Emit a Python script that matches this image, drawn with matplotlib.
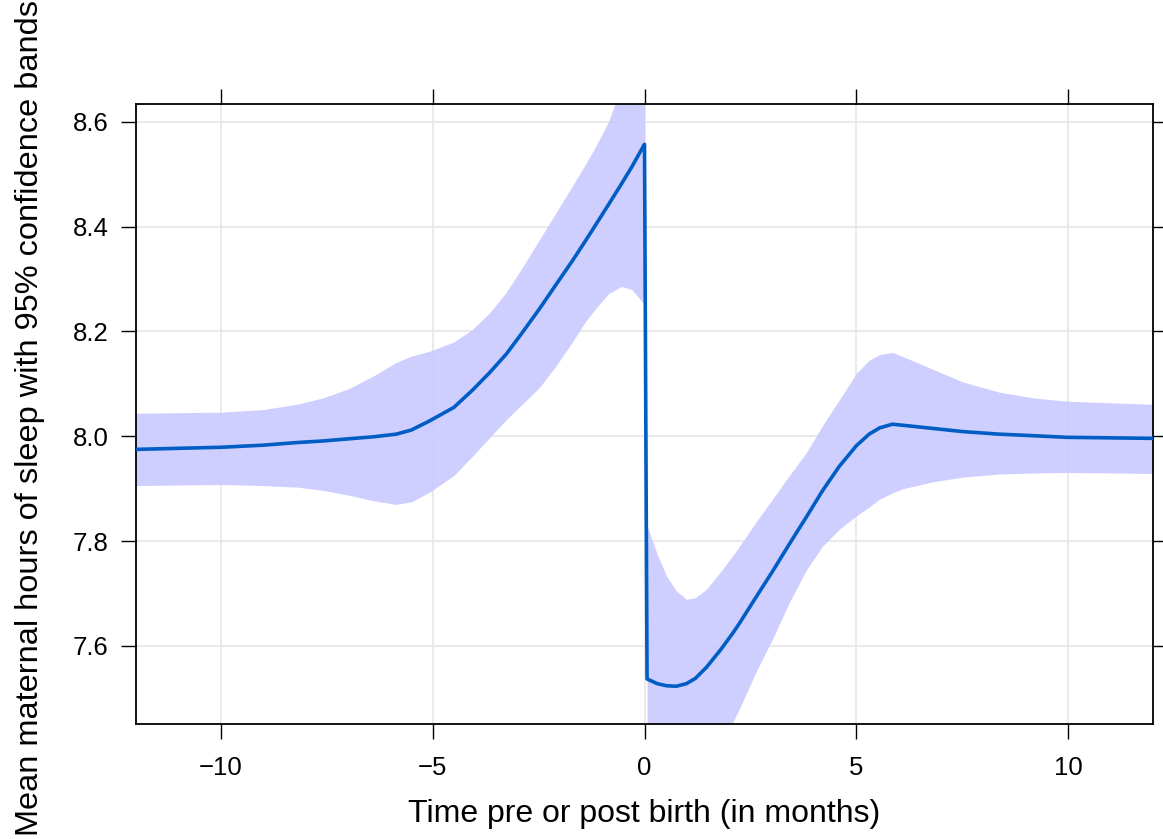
import matplotlib
matplotlib.use("Agg")
import matplotlib.pyplot as plt

plt.rcParams['font.family'] = ['Liberation Sans', 'DejaVu Sans']

# Pre-birth segment (months before birth)
pre_x = [-12.0, -10.0, -9.0, -8.2, -7.6, -7.0, -6.4, -5.86, -5.5, -5.08, -4.5,
         -4.06, -3.66, -3.26, -2.9, -2.48, -2.1, -1.70, -1.4, -1.14, -0.85,
         -0.54, -0.3, -0.05, 0.0]
pre_mean = [7.975, 7.979, 7.983, 7.988, 7.991, 7.995, 7.999, 8.004, 8.012, 8.029, 8.055,
            8.088, 8.121, 8.157, 8.196, 8.243, 8.288, 8.335, 8.372, 8.405, 8.442,
            8.482, 8.514, 8.550, 8.557]
pre_upper = [8.044, 8.046, 8.051, 8.061, 8.073, 8.090, 8.115, 8.141, 8.153, 8.162, 8.180,
             8.204, 8.235, 8.275, 8.320, 8.375, 8.425, 8.478, 8.518, 8.555, 8.60,
             8.67, 8.76, 8.85, 8.87]
pre_lower = [7.906, 7.908, 7.906, 7.903, 7.897, 7.888, 7.877, 7.870, 7.875, 7.893, 7.925,
             7.962, 7.997, 8.032, 8.060, 8.093, 8.133, 8.180, 8.218, 8.245, 8.272,
             8.286, 8.280, 8.256, 8.25]

# Post-birth segment (months after birth)
post_x = [0.06, 0.3, 0.52, 0.75, 0.99, 1.2, 1.46, 1.8, 2.08, 2.24, 2.6, 3.02, 3.4,
          3.82, 4.2, 4.6, 5.0, 5.3, 5.55, 5.85, 6.1, 6.8, 7.5, 8.38, 9.2, 9.96, 12.0]
post_mean = [7.537, 7.528, 7.524, 7.523, 7.528, 7.538, 7.559, 7.593, 7.624, 7.643, 7.689, 7.742, 7.792,
             7.846, 7.896, 7.943, 7.982, 8.004, 8.016, 8.023, 8.021, 8.015, 8.009, 8.004, 8.001, 7.998, 7.996]
post_upper = [7.830, 7.775, 7.733, 7.705, 7.689, 7.692, 7.708, 7.742, 7.772, 7.790, 7.833, 7.880, 7.923,
              7.969, 8.020, 8.070, 8.120, 8.145, 8.156, 8.160, 8.152, 8.128, 8.104, 8.084, 8.073, 8.067, 8.061]
post_lower = [7.250, 7.290, 7.320, 7.345, 7.370, 7.388, 7.410, 7.433, 7.454, 7.480, 7.545, 7.613, 7.680,
              7.745, 7.790, 7.823, 7.848, 7.865, 7.880, 7.892, 7.900, 7.913, 7.922, 7.928, 7.930, 7.931, 7.929]

x_ticks = [-10, -5, 0, 5, 10]
y_ticks = [7.6, 7.8, 8.0, 8.2, 8.4, 8.6]

band_color = '#CCCCFF'
line_color = '#005DC4'

fig = plt.figure(figsize=(11.63, 8.39), dpi=100)
ax = fig.add_axes([136 / 1163, 1 - 724 / 839, (1153 - 136) / 1163, (724 - 104) / 839])

ax.set_xlim(-12.0, 12.0)
ax.set_ylim(7.451, 8.634)
ax.set_xticks(x_ticks)
ax.set_yticks(y_ticks)
ax.set_yticklabels([f"{v:.1f}" for v in y_ticks])

ax.grid(True, color='#E6E6E6', linewidth=1.2, zorder=0)
ax.set_axisbelow(True)

ax.fill_between(pre_x, pre_lower, pre_upper, color=band_color, linewidth=0,
                alpha=0.95, zorder=1)
ax.fill_between(post_x, post_lower, post_upper, color=band_color, linewidth=0,
                alpha=0.95, zorder=1)

ax.plot(pre_x + post_x, pre_mean + post_mean, color=line_color, linewidth=2.6,
        solid_joinstyle='round', solid_capstyle='round', zorder=3)

for s in ax.spines.values():
    s.set_linewidth(1.3)
    s.set_color('black')

ax.tick_params(axis='both', which='major', direction='out', length=10.8,
               width=1.0, labelsize=18.5, colors='black', pad=9,
               top=True, right=True, labeltop=False, labelright=False)
ax.tick_params(axis='x', pad=12)

ax.set_xlabel('Time pre or post birth (in months)', fontsize=23, labelpad=14)
fig.text(30 / 1163, 1 - 418 / 839,
         'Mean maternal hours of sleep with 95% confidence bands',
         rotation=90, ha='center', va='center', fontsize=23.4)

fig.savefig('out.png', dpi=100)
